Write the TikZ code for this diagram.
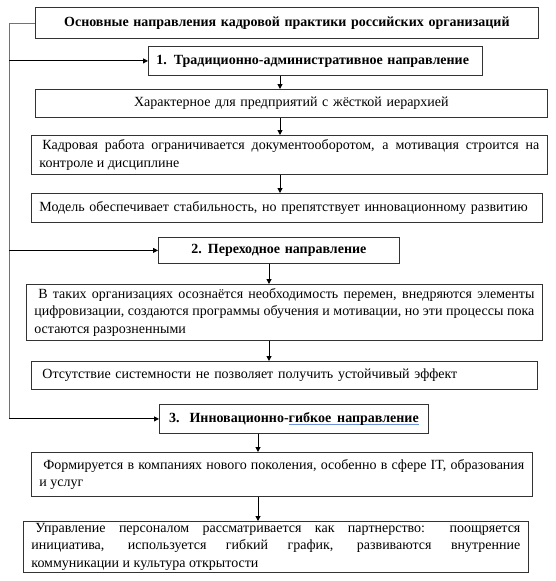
\documentclass[tikz,border=0pt]{standalone}
\usepackage{fontspec}
\setmainfont{Liberation Serif}
\usetikzlibrary{arrows.meta}

\definecolor{spellblue}{RGB}{110,145,220}
\newcommand{\spellmark}[1]{\setbox0=\hbox{#1}\rlap{\color{spellblue}\rule[-3pt]{\wd0}{1.2pt}}\box0}

\begin{document}
\begin{tikzpicture}[x=1pt,y=-1pt,
	box/.style={draw=\FRAMECOLOR, line width=0.8pt, anchor=north west, inner xsep=8pt, inner ysep=1pt, font=\fontsize{14}{17.6}\selectfont},
	head/.style={box, font=\fontsize{14}{17.6}\selectfont\bfseries},
	arr/.style={-{Triangle[length=5pt,width=5pt]}, line width=1pt, black},
	rail/.style={draw=\RAILCOLOR, line width=0.8pt}]

\def\FRAMECOLOR{black!80}
\def\RAILCOLOR{black!55}
	\useasboundingbox (0,0) rectangle (555,581);

	\node[head, text width=487pt, minimum height=31pt, align=center] (title) at (35,7) {Основные направления кадровой практики российских организаций};
	\node[head, text width=318pt, minimum height=29pt, align=left] (trad) at (148,46) {1. Традиционно-административное направление};
	\node[box, text width=496pt, minimum height=28pt, align=center] (feat) at (35,89) {Характерное для предприятий с жёсткой иерархией};
	\node[box, text width=500pt, minimum height=39pt, align=justify] (docs) at (31,135) {\hspace*{3pt}Кадровая работа ограничивается документооборотом, а мотивация строится на\linebreak контроле и дисциплине};
	\node[box, text width=495pt, minimum height=29pt, align=left] (model) at (31,193) {Модель обеспечивает стабильность, но препятствует инновационному развитию};

	\node[head, text width=225pt, minimum height=26pt, align=center] (trans) at (158,237) {2.\hspace{6pt}Переходное направление};
	\node[box, text width=500pt, minimum height=56pt, align=justify] (signs) at (26,284) {\hspace*{4pt}В таких организациях осознаётся необходимость перемен, внедряются элементы\linebreak цифровизации, создаются программы обучения и мотивации, но эти процессы пока\linebreak остаются разрозненными};
	\node[box, text width=490pt, minimum height=28pt, align=left] (gap) at (31,361) {\hspace*{3pt}Отсутствие системности не позволяет получить устойчивый эффект};

	\node[head, text width=253pt, minimum height=29pt, align=center] (innov) at (159,404) {3.\hspace{10pt}Инновационно-\spellmark{гибкое\hspace{6pt}направление}};
	\node[box, text width=485pt, minimum height=44pt, align=justify] (young) at (31,452) {\hspace*{4pt}Формируется в компаниях нового поколения, особенно в сфере IT, образования\linebreak и услуг};
	\node[box, text width=489pt, minimum height=51pt, align=justify] (partner) at (23,521) {\hspace*{4pt}Управление персоналом рассматривается как партнерство: поощряется\linebreak инициатива, используется гибкий график, развиваются внутренние\linebreak коммуникации и культура открытости};

	\coordinate (colA) at (280,0);
	\coordinate (colB) at (269,0);
	\coordinate (colC) at (258,0);
	\coordinate (rail) at (9,0);

	\draw[arr] (trad.south -| colA) -- (feat.north -| colA);
	\draw[arr] (feat.south -| colA) -- (docs.north -| colA);
	\draw[arr] (docs.south -| colA) -- (model.north -| colA);
	\draw[arr] (trans.south -| colB) -- (signs.north -| colB);
	\draw[arr] (signs.south -| colB) -- (gap.north -| colB);
	\draw[arr] (innov.south -| colC) -- (young.north -| colC);
	\draw[arr] (young.south -| colC) -- (partner.north -| colC);

	\draw[rail] (title.west) -- (title.west -| rail) -- (rail |- innov.west);
	\draw[arr] (rail |- trad.west) -- (trad.west);
	\draw[arr] (rail |- trans.west) -- (trans.west);
	\draw[arr] (rail |- innov.west) -- (innov.west);

          \end{tikzpicture}
\end{document}
